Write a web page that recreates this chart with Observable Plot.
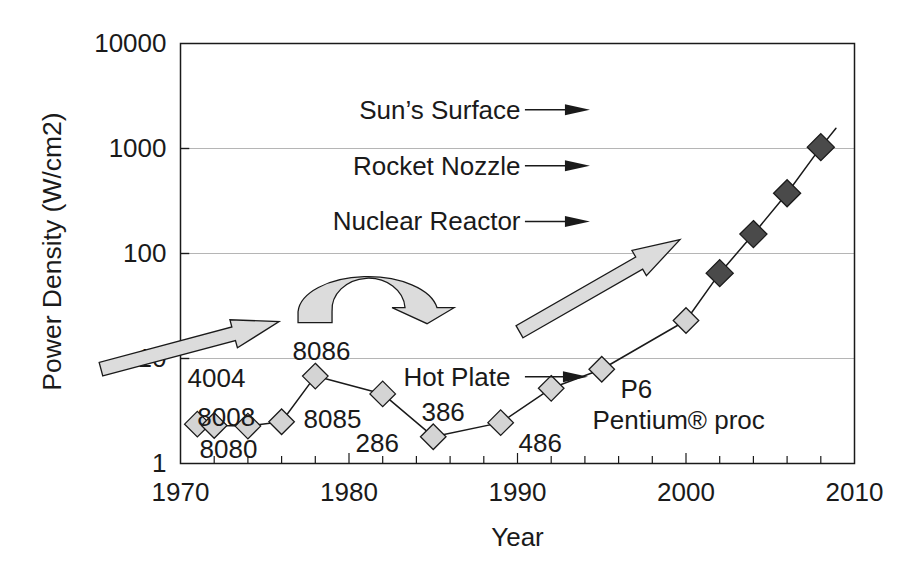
<!DOCTYPE html>
<html>
<head>
<meta charset="utf-8">
<script src="https://cdn.jsdelivr.net/npm/d3@7"></script>
<script src="https://cdn.jsdelivr.net/npm/@observablehq/plot@0.6"></script>
<style>
  html, body { margin: 0; padding: 0; background: #fff; }
  #chart { width: 900px; height: 562px; }
</style>
</head>
<body>
<div id="chart"></div>
<script>
// ---- data ----
const chipYears  = [1971, 1972, 1974, 1976, 1978, 1982, 1985, 1989, 1992, 1995, 2000, 2002, 2004, 2006, 2008];
const chipValues = [2.37, 2.3, 2.27, 2.5, 6.8, 4.6, 1.8, 2.45, 5.2, 7.9, 23, 65, 153, 375, 1030];
const chipGroup  = ["past","past","past","past","past","past","past","past","past","past","past","recent","recent","recent","recent"];
const trendYears  = [2008, 2008.9];
const trendValues = [1030, 1560];

const chipLabels      = ["4004", "8008", "8080", "8085", "8086", "286", "386", "486", "P6", "Pentium® proc", "Hot Plate"];
const chipLabelYears  = [1970.42, 1971.0, 1971.13, 1977.3, 1976.65, 1980.39, 1984.3, 1990.06, 1996.11, 1994.45, 1983.23];
const chipLabelValues = [6.49, 2.76, 1.34, 2.64, 11.5, 1.53, 3.08, 1.56, 5.0, 2.58, 6.64];

const refLabels = ["Sun’s Surface", "Rocket Nozzle", "Nuclear Reactor"];
const refValues = [2317, 678, 199];
const refLabelEndYear = 1990.18;
const refArrowStartYear = 1990.47;
const refArrowTipYear = 1994.33;
const hotPlateArrowValue = 6.64;
const hotPlateArrowTipYear = 1994.21;

// block arrows: tail/tip in data units
const blockArrowTailYears  = [1965.31, 1990.15];
const blockArrowTailValues = [7.82, 17.8];
const blockArrowTipYears   = [1975.88, 1999.67];
const blockArrowTipValues  = [22.2, 134];
const curvedArrowYear = 1981.16;
const curvedArrowValue = 27.6;

const xTicks = [1970, 1980, 1990, 2000, 2010];
const xTickLabels = ["1970", "1980", "1990", "2000", "2010"];
const xMinorTicks = [1972, 1974, 1976, 1978, 1982, 1984, 1986, 1988, 1992, 1994, 1996, 1998, 2002, 2004, 2006, 2008];
const yTicks = [1, 10, 100, 1000, 10000];
const yTickLabels = ["1", "10", "100", "1000", "10000"];
const yGrid = [10, 100, 1000];

const xTitle = "Year";
const yTitle = "Power Density (W/cm2)";

// ---- build ----
const chips = chipYears.map((year, i) => ({year, value: chipValues[i], group: chipGroup[i]}));
const trend = trendYears.map((year, i) => ({year, value: trendValues[i]}));
const chipLabelData = chipLabels.map((label, i) => ({label, year: chipLabelYears[i], value: chipLabelValues[i]}));
const refData = refLabels.map((label, i) => ({label, value: refValues[i]}));

const FONT = "'Liberation Sans', Arial, Helvetica, sans-serif";
const INK = "#1a1a1a";
const FS = 26;

function annotations(index, scales) {
  const {x, y} = scales;
  const g = d3.create("svg:g");
  // straight block arrows
  const w = 7, hw = 14.5, hl = 47;
  blockArrowTailYears.forEach((ty, i) => {
    const T = [x(ty), y(blockArrowTailValues[i])];
    const P = [x(blockArrowTipYears[i]), y(blockArrowTipValues[i])];
    const dx = P[0] - T[0], dy = P[1] - T[1];
    const L = Math.hypot(dx, dy);
    const u = [dx / L, dy / L], n = [-u[1], u[0]];
    const B = [P[0] - u[0] * hl, P[1] - u[1] * hl];
    const pts = [
      [T[0] + n[0] * w, T[1] + n[1] * w],
      [B[0] + n[0] * w, B[1] + n[1] * w],
      [B[0] + n[0] * hw, B[1] + n[1] * hw],
      P,
      [B[0] - n[0] * hw, B[1] - n[1] * hw],
      [B[0] - n[0] * w, B[1] - n[1] * w],
      [T[0] - n[0] * w, T[1] - n[1] * w]
    ];
    g.append("path")
      .attr("d", "M" + pts.map(p => p.join(",")).join("L") + "Z")
      .attr("fill", "#dcdcdc").attr("stroke", INK).attr("stroke-width", 1.3)
      .attr("stroke-linejoin", "miter");
  });
  // curved arrow
  const cx = x(curvedArrowYear), cy = y(curvedArrowValue);
  const d = `M${cx-70},${cy+11} L${cx-70},${cy} A70,37 0 0 1 ${cx+69},${cy-4}
    L${cx+86},${cy-4} L${cx+59},${cy+12} L${cx+24},${cy-4} L${cx+37},${cy-4}
    A36,31 0 0 0 ${cx-36},${cy} L${cx-36},${cy+11} Z`;
  g.append("path").attr("d", d)
    .attr("fill", "#dcdcdc").attr("stroke", INK).attr("stroke-width", 1.3);
  // thin arrows next to reference labels
  const thin = refValues.map(v => ({v, tip: refArrowTipYear}))
    .concat([{v: hotPlateArrowValue, tip: hotPlateArrowTipYear}]);
  thin.forEach(({v, tip}) => {
    const yy = y(v), x0 = x(refArrowStartYear), x1 = x(tip);
    const hx = x1 - 25;
    g.append("line").attr("x1", x0).attr("x2", hx + 2).attr("y1", yy).attr("y2", yy)
      .attr("stroke", INK).attr("stroke-width", 1.5);
    g.append("path").attr("d", `M${hx},${yy-5.5} L${x1},${yy} L${hx},${yy+5.5} Z`)
      .attr("fill", INK);
  });
  return g.node();
}

const chart = Plot.plot({
  width: 900,
  height: 562,
  marginLeft: 180,
  marginRight: 46,
  marginTop: 43,
  marginBottom: 99,
  style: {fontFamily: FONT, fontSize: FS + "px", background: "#fff", color: INK},
  x: {domain: [1970, 2010]},
  y: {type: "log", domain: [1, 10000]},
  marks: [
    Plot.ruleY(yGrid, {stroke: "#b5b5b5", strokeWidth: 1.2}),
    Plot.ruleX(xMinorTicks, {y1: 1, y2: 1.165, stroke: INK, strokeWidth: 1.2}),
    Plot.ruleX(xTicks.slice(1, -1), {y1: 1, y2: 1.245, stroke: INK, strokeWidth: 1.2}),
    Plot.ruleY(yGrid, {x1: 1970, x2: 1970.55, stroke: INK, strokeWidth: 1.4}),
    Plot.frame({stroke: INK, strokeWidth: 1.5}),
    Plot.axisX({ticks: xTicks, tickSize: 0, tickPadding: 19, fontSize: FS,
      tickFormat: d => xTickLabels[xTicks.indexOf(d)], label: null}),
    Plot.axisY({ticks: yTicks, tickSize: 0, tickPadding: 14, fontSize: FS,
      tickFormat: d => yTickLabels[yTicks.indexOf(d)], label: null}),
    Plot.text([xTitle], {frameAnchor: "bottom", lineAnchor: "middle", dy: 74, fontSize: FS, fill: INK}),
    Plot.text([yTitle], {frameAnchor: "left", textAnchor: "middle", lineAnchor: "middle", dx: -128, dy: -2, rotate: -90, fontSize: 26.5, fill: INK}),
    Plot.line(chips, {x: "year", y: "value", stroke: INK, strokeWidth: 1.5}),
    Plot.line(trend, {x: "year", y: "value", stroke: INK, strokeWidth: 1.5}),
    Plot.dot(chips.filter(d => d.group === "past"), {x: "year", y: "value", symbol: d3.symbolDiamond2, r: 11.5, fill: "#d4d4d4", stroke: INK, strokeWidth: 1.3}),
    Plot.dot(chips.filter(d => d.group === "recent"), {x: "year", y: "value", symbol: d3.symbolDiamond2, r: 12.2, fill: "#4a4a4a", stroke: INK, strokeWidth: 1.3}),
    Plot.text(chipLabelData, {x: "year", y: "value", text: "label", textAnchor: "start", fontSize: FS, fill: INK}),
    Plot.text(refData, {x: () => refLabelEndYear, y: "value", text: "label", textAnchor: "end", fontSize: FS, fill: INK}),
    annotations
  ]
});

document.getElementById("chart").appendChild(chart);
</script>
</body>
</html>
